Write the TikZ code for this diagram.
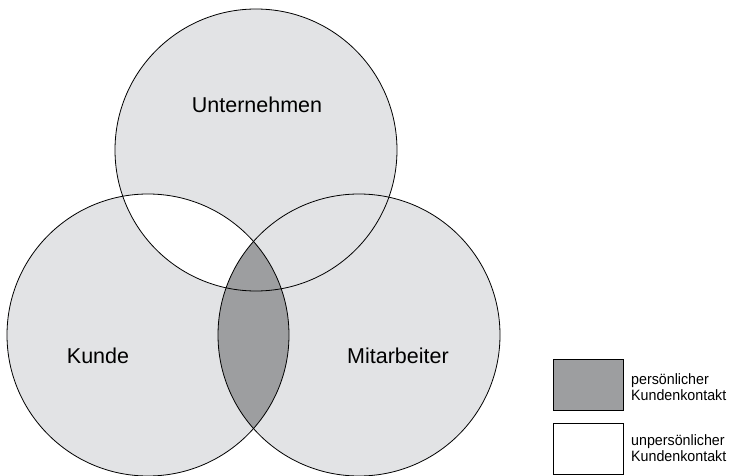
\documentclass[tikz,border=0pt]{standalone}
\usepackage{fontspec}
\setmainfont{Liberation Sans}
\usepackage{tikz}
\usetikzlibrary{positioning}
\definecolor{hellgrau}{HTML}{E2E3E5}
\definecolor{dunkelgrau}{HTML}{9D9EA0}

\begin{document}
\begin{tikzpicture}[x=1pt, y=-1pt,
		kreis/.style={line width=0.8pt},
		bez/.style={anchor=base, font=\fontsize{21.5}{26}\selectfont},
		legbox/.style={draw, line width=0.9pt, minimum width=70pt, minimum height=51pt},
		legtext/.style={align=left, inner sep=0pt, anchor=west, font=\fontsize{15}{16.5}\selectfont\addfontfeatures{FakeStretch=0.95}}]
		\useasboundingbox (0,0) rectangle (734,476);
		
		\coordinate (mU) at (256,150);
		\coordinate (mK) at (148,335);
		\coordinate (mM) at (359,335);
		\def\rad{141pt}
		
		\fill[hellgrau] (mU) circle (\rad) (mK) circle (\rad) (mM) circle (\rad);
		\begin{scope}
			\clip (mK) circle (\rad);
			\fill[white] (mU) circle (\rad);
			\fill[dunkelgrau] (mM) circle (\rad);
		\end{scope}
		\draw[kreis] (mU) circle (\rad);
		\draw[kreis] (mK) circle (\rad);
		\draw[kreis] (mM) circle (\rad);
		
		\node[bez] (lU) at (257,113) {Unternehmen};
		\node[bez] (lK) at (98,363) {Kunde};
		\node[bez] (lM) at (398,363) {Mitarbeiter};
		
		\node[legbox, fill=dunkelgrau] (bp) at (588,385) {};
		\node[legtext] (tp) at (631,387) {persönlicher\\Kundenkontakt};
		\node[legbox, fill=white, below=12pt of bp] (bu) {};
		\node[legtext] (tu) at (631,448) {unpersönlicher\\Kundenkontakt};
		
	\end{tikzpicture}
\end{document}
